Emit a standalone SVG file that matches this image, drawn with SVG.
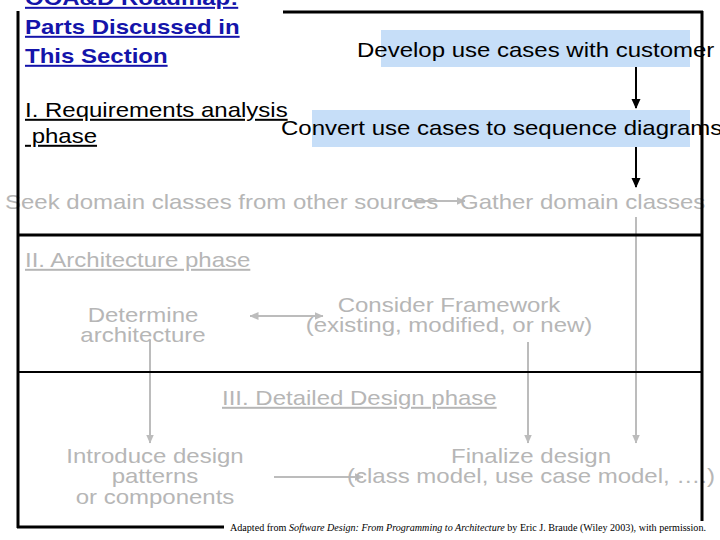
<svg xmlns="http://www.w3.org/2000/svg" width="720" height="540" viewBox="0 0 720 540">
<defs>
<style>
.t{font-family:"Liberation Sans",Arial,sans-serif;font-size:20px}
.blk{fill:#000}
.gry{fill:#b6b6b6}
.ttl{font-weight:bold;fill:#1414aa;text-decoration:underline}
.u{text-decoration:underline}
.c{text-anchor:middle}
.frame{stroke:#000;fill:none}
.cb{stroke:#000;stroke-width:2;fill:none}
.cg{stroke:#bcbcbc;stroke-width:2;fill:none}
.hl{fill:#c6def8}
</style>
<marker id="ab" markerUnits="userSpaceOnUse" markerWidth="10" markerHeight="10" refX="9" refY="5" orient="auto-start-reverse" viewBox="0 0 10 10">
<path d="M0,0.5 L10,5 L0,9.5 Z" fill="#000"/>
</marker>
<marker id="ag" markerUnits="userSpaceOnUse" markerWidth="9" markerHeight="9" refX="8.5" refY="4.5" orient="auto-start-reverse" viewBox="0 0 9 9">
<path d="M0,0.5 L9,4.5 L0,8.5 Z" fill="#bcbcbc"/>
</marker>
</defs>
<rect width="720" height="540" fill="#fff"/>

<g id="highlights">
<rect class="hl" x="381" y="30" width="309" height="37"/>
<rect class="hl" x="312" y="110" width="378" height="37"/>
</g>

<g id="connectors">
<line class="cb" x1="636" y1="67" x2="636" y2="108" marker-end="url(#ab)"/>
<line class="cb" x1="636" y1="147" x2="636" y2="187" marker-end="url(#ab)"/>
<line class="cg" x1="408" y1="201" x2="465" y2="201" marker-end="url(#ag)"/>
<line class="cg" x1="636" y1="217" x2="636" y2="443" marker-end="url(#ag)"/>
<line class="cg" x1="250" y1="316" x2="323" y2="316" marker-start="url(#ag)" marker-end="url(#ag)"/>
<line class="cg" x1="528" y1="342" x2="528" y2="443" marker-end="url(#ag)"/>
<line class="cg" x1="150" y1="340" x2="150" y2="443" marker-end="url(#ag)"/>
<line class="cg" x1="274" y1="477" x2="363" y2="477" marker-end="url(#ag)"/>
</g>

<g transform="scale(1.2,1)">
<g id="title">
<text class="t ttl" x="20.83" y="5">OOA&amp;D Roadmap:</text>
<text class="t ttl" x="20.83" y="34">Parts Discussed in</text>
<text class="t ttl" x="20.83" y="63">This Section</text>
</g>
<g id="develop-use-cases">
<text class="t blk" x="297.5" y="57">Develop use cases with customer</text>
</g>
<g id="convert-use-cases">
<text class="t blk" x="234.17" y="135">Convert use cases to sequence diagrams</text>
</g>
<g id="phase-1-label">
<text class="t blk u" x="20.83" y="117">I. Requirements analysis</text>
<text class="t blk u" x="20.83" y="143" xml:space="preserve"> phase</text>
</g>
<g id="seek-domain-classes">
<text class="t gry" x="4.17" y="209">Seek domain classes from other sources</text>
</g>
<g id="gather-domain-classes">
<text class="t gry" x="383.33" y="209">Gather domain classes</text>
</g>
<g id="phase-2-label">
<text class="t gry u" x="20.83" y="267">II. Architecture phase</text>
</g>
<g id="determine-architecture">
<text class="t gry c" x="119.17" y="322">Determine</text>
<text class="t gry c" x="119.17" y="342">architecture</text>
</g>
<g id="consider-framework">
<text class="t gry c" x="374.17" y="312">Consider Framework</text>
<text class="t gry c" x="374.17" y="332">(existing, modified, or new)</text>
</g>
<g id="phase-3-label">
<text class="t gry u" x="185" y="405">III. Detailed Design phase</text>
</g>
<g id="introduce-design-patterns">
<text class="t gry c" x="129.17" y="463">Introduce design</text>
<text class="t gry c" x="129.17" y="483">patterns</text>
<text class="t gry c" x="129.17" y="504">or components</text>
</g>
<g id="finalize-design">
<text class="t gry c" x="442.5" y="463">Finalize design</text>
<text class="t gry c" x="442.5" y="483">(class model, use case model, ….)</text>
</g>
</g>

<g id="frame">
<path class="frame" stroke-width="3" d="M283,12 H703 M702,11 V521 M18,11 V528 M17,235 H703 M17,527 H224"/>
<path class="frame" stroke-width="2" d="M17,372 H703"/>
</g>

<g id="footer">
<text x="230" y="531" font-family="'Liberation Serif','Times New Roman',serif" font-size="10" fill="#000" textLength="476" lengthAdjust="spacingAndGlyphs">Adapted from <tspan font-style="italic">Software Design: From Programming to Architecture</tspan> by Eric J. Braude (Wiley 2003), with permission.</text>
</g>
</svg>
